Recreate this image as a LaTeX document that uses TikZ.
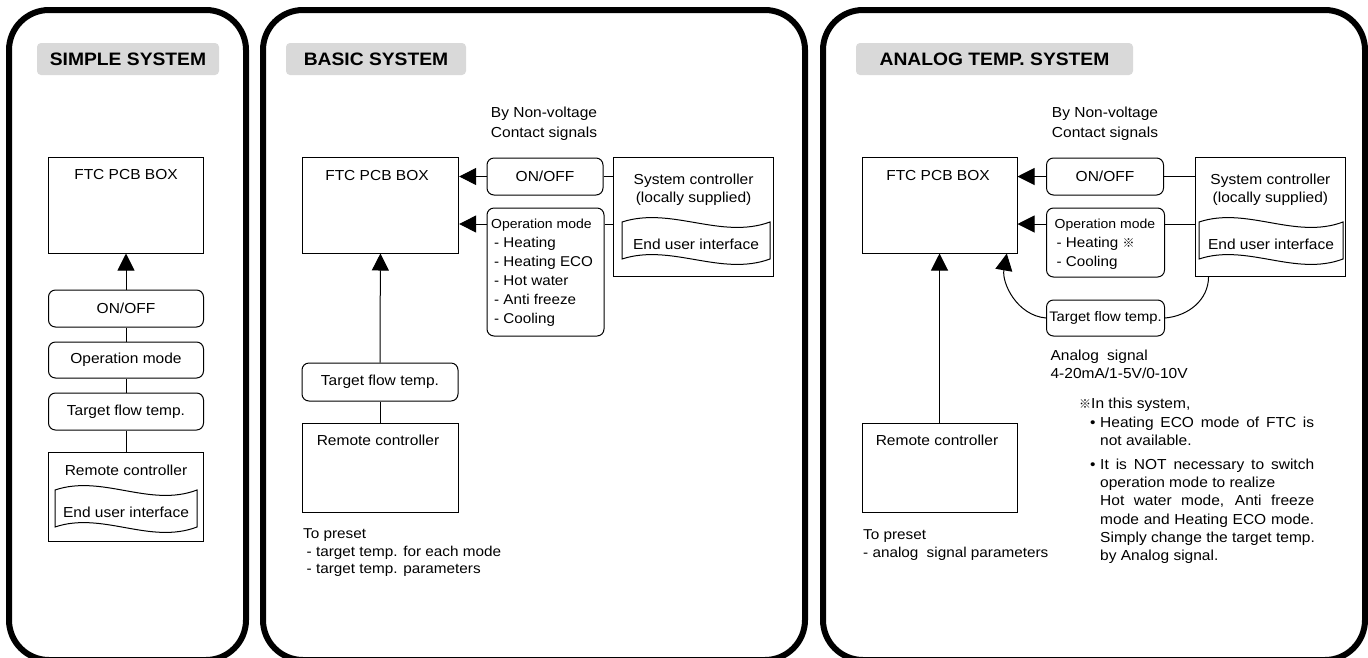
\documentclass[tikz,border=0pt]{standalone}
\usepackage{fontspec}
\setmainfont{Liberation Sans}[FakeStretch=1.07]
\newfontfamily\refmark{Noto Sans CJK JP}
\usetikzlibrary{arrows.meta}
\newcommand\mytape[2]{%
  \begin{scope}[shift={(#1.center)}]
    \draw[tapeline] (-#2,-22) .. controls (-#2/3,-38) and (#2/3,-4) .. (#2,-22)
      -- (#2,15) .. controls (#2/3,33) and (-#2/3,-1) .. (-#2,15) -- cycle;
  \end{scope}}
\newcommand\rmk{{\refmark\fontsize{12}{10}\selectfont ※}}
\begin{document}
\begin{tikzpicture}[x=1pt,y=-1pt,
  panel/.style={line width=6pt, rounded corners=40pt},
  hdr/.style={fill=black!15, rounded corners=4pt, minimum height=32pt, inner sep=0pt,
    font=\fontsize{18}{20}\bfseries\selectfont},
  box/.style={draw, line width=1pt, inner sep=0pt},
  rbox/.style={draw, line width=1pt, rounded corners=7pt, inner sep=0pt},
  lbl/.style={font=\fontsize{14.5}{17}\selectfont, inner sep=0pt},
  sml/.style={font=\fontsize{14.5}{18.3}\selectfont, inner sep=0pt},
  opf/.style={font=\fontsize{14.2}{19}\selectfont, inner sep=0pt, align=left, anchor=west},
  arr/.style={line width=1pt, -{Triangle[length=17pt,width=17pt]}},
  conn/.style={line width=1pt},
  tapeline/.style={line width=1pt}]
\useasboundingbox (0,0) rectangle (1368,657);
\fill[white] (0,0) rectangle (1368,657);

% ---------- panels ----------
\draw[panel] (9,10) rectangle (246,660);
\draw[panel] (263,10) rectangle (805,660);
\draw[panel] (823,10) rectangle (1365,660);

\node[hdr, minimum width=182pt] (hdr1) at (128,59) {SIMPLE SYSTEM};
\node[hdr, minimum width=180pt] (hdr2) at (376,59) {BASIC SYSTEM};
\node[hdr, minimum width=277pt] (hdr3) at (994.5,59) {ANALOG TEMP. SYSTEM};

% ---------- simple system ----------
\node[box, minimum width=155pt, minimum height=96pt] (ftc1) at (126,205) {};
\node[lbl] (ftc1t) at (126,175) {FTC PCB BOX};
\node[rbox, lbl, minimum width=155pt, minimum height=37pt] (on1) at (126,308.5) {ON/OFF};
\node[rbox, lbl, minimum width=155pt, minimum height=36pt] (op1) at (126,360) {Operation mode};
\node[rbox, lbl, minimum width=155pt, minimum height=37pt] (tft1) at (126,411.5) {Target flow temp.};
\node[box, minimum width=155pt, minimum height=89pt] (rc1) at (126,496.5) {};
\node[lbl] (rc1t) at (126,470) {Remote controller};
\node[lbl] (eui1) at (126,512) {End user interface};
\mytape{eui1}{71}
\draw[arr] (on1.north) -- (ftc1.south);
\draw[conn] (op1.north) -- (on1.south);
\draw[conn] (tft1.north) -- (op1.south);
\draw[conn] (rc1.north) -- (tft1.south);

% ---------- basic system ----------
\node[lbl, font=\fontsize{14.5}{20}\selectfont, align=center] (nv2) at (544,124) {By Non-voltage\\Contact signals};
\node[box, minimum width=156.5pt, minimum height=96pt] (ftc2) at (380.4,205) {};
\node[lbl] (ftc2t) at (377,176) {FTC PCB BOX};
\node[rbox, lbl, minimum width=116pt, minimum height=37pt] (on2) at (545,176.5) {ON/OFF};
\node[rbox, minimum width=117pt, minimum height=128pt] (op2) at (545.5,272) {};
\node[opf] (op2t) at (491,273)
  {{\fontsize{13.1}{19}\selectfont Operation mode}\\
   \hspace*{3pt}- Heating\\\hspace*{3pt}- Heating ECO\\\hspace*{3pt}- Hot water\\
   \hspace*{3pt}- Anti freeze\\\hspace*{3pt}- Cooling};
\node[box, minimum width=160pt, minimum height=119pt] (sys2) at (693.6,216.5) {};
\node[lbl, font=\fontsize{14.5}{18}\selectfont, align=center] (sys2t) at (693.6,190) {System controller\\(locally supplied)};
\node[lbl] (eui2) at (696,244) {End user interface};
\mytape{eui2}{74}
\coordinate (op2y) at (0,224);
\draw[arr] (on2.west) -- (ftc2.east |- on2.west);
\draw[arr] (op2.west |- op2y) -- (ftc2.east |- op2y);
\draw[conn] (on2.east) -- (sys2.west |- on2.east);
\draw[conn] (op2.east |- op2y) -- (sys2.west |- op2y);
\node[rbox, lbl, minimum width=156pt, minimum height=38pt] (tft2) at (380,382) {Target flow temp.};
\node[box, minimum width=156pt, minimum height=89pt] (rc2) at (380,467.5) {};
\node[lbl] (rc2t) at (378,440) {Remote controller};
\draw[arr] (tft2.north) -- (ftc2.south);
\draw[conn] (rc2.north) -- (tft2.south);
\node[sml, font=\fontsize{14.3}{17.5}\selectfont, align=left, anchor=west] (pre2) at (303,553)
  {To preset\\\hspace*{3.5pt}- target temp. for each mode\\\hspace*{3.5pt}- target temp. parameters};

% ---------- analog temp. system ----------
\node[lbl, font=\fontsize{14.5}{20}\selectfont, align=center] (nv3) at (1105,124) {By Non-voltage\\Contact signals};
\node[box, minimum width=155pt, minimum height=96pt] (ftc3) at (939.5,205) {};
\node[lbl] (ftc3t) at (938,176) {FTC PCB BOX};
\node[rbox, lbl, minimum width=117pt, minimum height=37pt] (on3) at (1105,176.5) {ON/OFF};
\node[rbox, minimum width=118pt, minimum height=69pt] (op3) at (1105.5,242.5) {};
\node[opf] (op3t) at (1054.5,244)
  {{\fontsize{13.1}{19}\selectfont Operation mode}\\
   \hspace*{2pt}- Heating \rmk\\\hspace*{2pt}- Cooling};
\node[box, minimum width=150.7pt, minimum height=119pt] (sys3) at (1270.4,216.5) {};
\node[lbl, font=\fontsize{14.5}{18}\selectfont, align=center] (sys3t) at (1270.4,190) {System controller\\(locally supplied)};
\node[lbl] (eui3) at (1271,244) {End user interface};
\mytape{eui3}{72}
\coordinate (op3y) at (0,224);
\draw[arr] (on3.west) -- (ftc3.east |- on3.west);
\draw[arr] (op3.west |- op3y) -- (ftc3.east |- op3y);
\draw[conn] (on3.east) -- (sys3.west |- on3.east);
\draw[conn] (op3.east |- op3y) -- (sys3.west |- op3y);
\node[rbox, lbl, font=\fontsize{13.8}{15}\selectfont, minimum width=118pt, minimum height=36pt] (tft3) at (1105.5,318) {Target flow temp.};
\draw[arr] (tft3.west) to[out=175, in=-100] ([xshift=-10.7pt]ftc3.south east);
\draw[conn] (tft3.east) to[out=5, in=-90] ([xshift=14pt]sys3.south west);
\node[box, minimum width=155pt, minimum height=89pt] (rc3) at (939.5,467.5) {};
\node[lbl] (rc3t) at (937,440) {Remote controller};
\draw[arr] (rc3.north) -- (ftc3.south);
\node[sml, font=\fontsize{14.3}{17.5}\selectfont, align=left, anchor=west] (pre3) at (863,545)
  {To preset\\- analog\hspace{4pt} signal parameters};
\node[sml, align=left, anchor=west] (ana3) at (1050.4,364)
  {Analog\hspace{4pt} signal\\4-20mA/1-5V/0-10V};
\node[sml, align=left, anchor=north west] (note3) at (1079,398)
  {\rmk In this system,\\
   \makebox[11pt][l]{}\makebox[10pt][l]{•}\makebox[214pt][s]{Heating ECO mode of FTC is}\\
   \makebox[21pt]{}not available.\\[5.5pt]
   \makebox[11pt][l]{}\makebox[10pt][l]{•}\makebox[214pt][s]{It is NOT necessary to switch}\\
   \makebox[21pt]{}operation mode to realize\\
   \makebox[21pt]{}\makebox[214pt][s]{Hot water mode, Anti freeze}\\
   \makebox[21pt]{}\makebox[214pt][s]{mode and Heating ECO mode.}\\
   \makebox[21pt]{}Simply change the target temp.\\
   \makebox[21pt]{}by Analog signal.};
\end{tikzpicture}
\end{document}
